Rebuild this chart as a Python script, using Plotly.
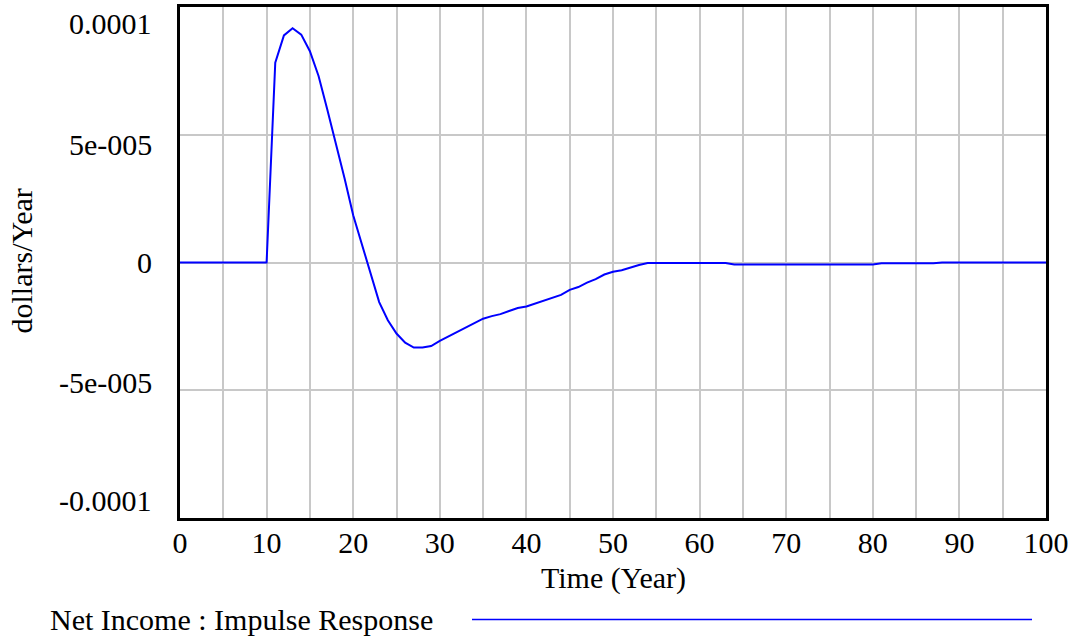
import plotly.graph_objects as go

# ---- data ----
time_years = list(range(0, 101))
net_income = (
    [0.0] * 11 +                                   # t = 0..10
    [7.82e-5, 8.89e-5, 9.17e-5, 8.92e-5, 8.27e-5,  # t = 11..15
     7.30e-5, 6.00e-5, 4.70e-5, 3.30e-5, 1.85e-5,  # t = 16..20
     0.70e-5, -0.45e-5, -1.55e-5, -2.26e-5, -2.78e-5,  # t = 21..25
     -3.14e-5, -3.33e-5, -3.33e-5, -3.27e-5, -3.07e-5,  # t = 26..30
     -2.90e-5, -2.73e-5, -2.57e-5, -2.38e-5, -2.20e-5,  # t = 31..35
     -2.10e-5, -2.02e-5, -1.90e-5, -1.78e-5, -1.72e-5,  # t = 36..40
     -1.60e-5, -1.48e-5, -1.37e-5, -1.27e-5, -1.07e-5,  # t = 41..45
     -9.6e-6, -7.9e-6, -6.5e-6, -4.7e-6, -3.6e-6,       # t = 46..50
     -3.0e-6, -1.9e-6, -1.0e-6, -2e-7] +                # t = 51..54
    [-2e-7] * 9 +                                  # t = 55..63
    [-8e-7] * 17 +                                 # t = 64..80
    [-3e-7] * 7 +                                  # t = 81..87
    [0.0] * 13                                     # t = 88..100
)
x_ticks = list(range(0, 101, 10))
y_tick_vals = [1e-4, 5e-5, 0, -5e-5, -1e-4]
y_tick_text = ["0.0001", "5e-005", "0", "-5e-005", "-0.0001"]
y_tick_shift = [-16, -10, 0, 8, 18]
series_name = "Net Income : Impulse Response"
x_title = "Time (Year)"
y_title = "dollars/Year"

FONT = "Liberation Serif"
FS = 30

fig = go.Figure()
fig.add_trace(go.Scatter(x=time_years, y=net_income, mode="lines",
                         line=dict(color="#0000ff", width=2),
                         name=series_name, showlegend=False))

fig.update_layout(
    width=1075, height=637,
    margin=dict(l=180, r=29, t=4, b=119),
    paper_bgcolor="white", plot_bgcolor="white",
    font=dict(family=FONT, size=FS, color="black"),
    showlegend=False,
)
fig.update_xaxes(range=[0, 100], tickvals=x_ticks, ticktext=[str(v) for v in x_ticks],
                 showgrid=False, zeroline=False,
                 showline=True, linecolor="black", linewidth=3, mirror=True,
                 ticks="", ticklabelstandoff=-4,
                 tickfont=dict(family=FONT, size=FS, color="black"))
fig.update_xaxes(minor=dict(dtick=5, tick0=0, showgrid=True, gridcolor="#c8c8c8", gridwidth=1.5))
fig.update_yaxes(range=[-1e-4, 1e-4], tickvals=[-5e-5, 0, 5e-5], showticklabels=False,
                 showgrid=True, gridcolor="#c8c8c8", gridwidth=1.5, zeroline=False,
                 showline=True, linecolor="black", linewidth=3, mirror=True, ticks="")

for v, t, s in zip(y_tick_vals, y_tick_text, y_tick_shift):
    fig.add_annotation(x=0, xref="paper", y=v, yref="y", text=t, showarrow=False,
                       xanchor="right", yanchor="middle", xshift=-26, yshift=s,
                       font=dict(family=FONT, size=FS, color="black"))

fig.add_annotation(x=0.5, xref="paper", y=(518 - 578) / 514.0, yref="paper", text=x_title,
                   showarrow=False, yanchor="middle",
                   font=dict(family=FONT, size=FS, color="black"))

fig.add_annotation(x=(22 - 180) / 866.0, xref="paper", y=(518 - 260) / 514.0, yref="paper",
                   text=y_title, textangle=-90, showarrow=False,
                   xanchor="center", yanchor="middle",
                   font=dict(family=FONT, size=FS, color="black"))

# legend row
leg_y = (518 - 620) / 514.0
fig.add_annotation(x=(48 - 180) / 866.0, xref="paper", y=leg_y, yref="paper",
                   text=series_name, showarrow=False, xanchor="left", yanchor="middle",
                   font=dict(family=FONT, size=FS, color="black"))
fig.add_shape(type="line", xref="paper", yref="paper",
              x0=(472 - 180) / 866.0, x1=(1032 - 180) / 866.0, y0=leg_y, y1=leg_y,
              line=dict(color="#0000ff", width=1.5))

fig.write_html("out.html", config={"displayModeBar": False},
               post_script="document.body.style.margin='0';document.body.style.overflow='hidden';")
